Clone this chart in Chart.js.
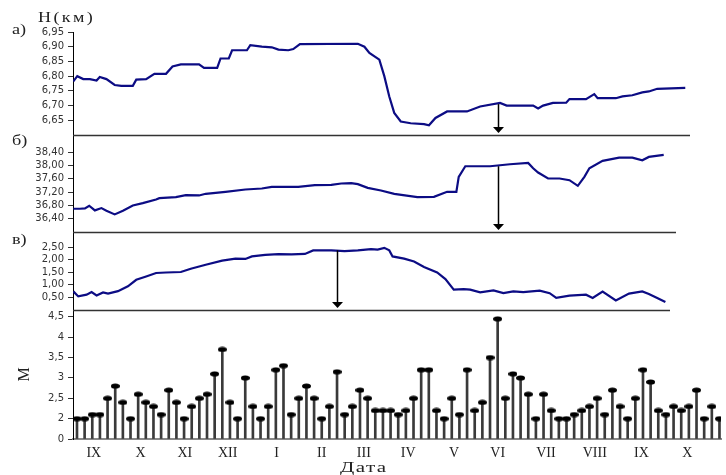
<!DOCTYPE html>
<html>
<head>
<meta charset="utf-8">
<script src="https://cdn.jsdelivr.net/npm/chart.js@4.4.1/dist/chart.umd.min.js"></script>
<style>
html, body { margin: 0; padding: 0; background: #fff; }
#wrap { position: relative; width: 726px; height: 475px; overflow: hidden; }
#chart { position: absolute; left: 0; top: 0; }
.lbl { position: absolute; font-family: "Liberation Serif", serif; color: #222; line-height: 1; white-space: nowrap; transform-origin: left top; }
</style>
</head>
<body>
<div id="wrap">
  <canvas id="chart" width="726" height="475"></canvas>
  <div class="lbl" style="left:38px;top:10px;font-size:15px;letter-spacing:2px;transform:scaleX(1.2)">H(км)</div>
  <div class="lbl" style="left:12px;top:23px;font-size:14px;transform:scaleX(1.3)">а)</div>
  <div class="lbl" style="left:12px;top:134px;font-size:14px;transform:scaleX(1.3)">б)</div>
  <div class="lbl" style="left:12px;top:233px;font-size:14px;transform:scaleX(1.3)">в)</div>
  <div class="lbl" style="left:340px;top:460px;font-size:15px;letter-spacing:1px;transform:scaleX(1.4)">Дата</div>
</div>
<script>
// x is the pentad number (5-day step), counted from the first stem
const monthLabels = ['IX', 'X', 'XI', 'XII', 'I', 'II', 'III', 'IV', 'V', 'VI', 'VII', 'VIII', 'IX', 'X'];
const monthPos = [2.2, 8.3, 14.1, 19.7, 26.1, 32.0, 37.5, 43.3, 49.3, 55.0, 61.3, 67.7, 73.8, 79.8];

// panel a) H, km
const aX = [-0.48, 0.04, 0.82, 1.69, 2.56, 2.98, 3.85, 4.93, 5.80, 7.30, 7.75, 9.04, 10.12, 11.64, 12.49, 13.58,
  15.96, 16.61, 18.33, 18.77, 19.85, 20.28, 22.22, 22.66, 24.17, 25.47, 26.34, 27.63, 28.28, 29.15, 36.72, 37.58,
  38.23, 39.53, 40.18, 40.83, 41.48, 42.33, 43.63, 45.37, 46.02, 46.87, 48.39, 50.99, 52.71, 55.31, 56.18, 59.64,
  60.29, 60.94, 62.23, 63.96, 64.39, 66.55, 67.63, 68.07, 70.45, 71.32, 72.61, 73.91, 74.77, 75.86, 79.53];
const aY = [6.782, 6.80, 6.79, 6.79, 6.785, 6.797, 6.79, 6.77, 6.767, 6.767, 6.788, 6.79, 6.808, 6.808, 6.833, 6.84,
  6.84, 6.828, 6.828, 6.86, 6.86, 6.888, 6.888, 6.905, 6.90, 6.898, 6.89, 6.888, 6.892, 6.909, 6.91, 6.90,
  6.879, 6.856, 6.80, 6.731, 6.675, 6.646, 6.64, 6.637, 6.633, 6.658, 6.68, 6.68, 6.697, 6.709, 6.70, 6.70,
  6.69, 6.70, 6.709, 6.71, 6.722, 6.722, 6.739, 6.725, 6.725, 6.731, 6.735, 6.745, 6.748, 6.757, 6.76];

// panel б)
const bX = [-0.48, 0.39, 1.04, 1.60, 2.34, 3.20, 3.85, 4.93, 6.01, 7.30, 8.60, 10.34, 10.77, 12.93, 14.23, 15.96,
  16.83, 19.42, 22.02, 24.17, 25.47, 28.93, 31.10, 33.25, 34.55, 35.85, 36.72, 38.01, 39.74, 41.48, 44.50, 46.67,
  48.39, 49.60, 49.91, 50.77, 54.01, 56.61, 58.99, 59.64, 60.29, 61.59, 63.09, 64.39, 65.48, 66.34, 66.99, 68.72,
  70.88, 72.61, 73.91, 74.77, 76.71];
const bY = [36.70, 36.70, 36.71, 36.79, 36.65, 36.72, 36.64, 36.53, 36.64, 36.80, 36.87, 36.98, 37.02, 37.05, 37.11, 37.10,
  37.15, 37.21, 37.28, 37.31, 37.36, 37.36, 37.41, 37.42, 37.46, 37.47, 37.44, 37.33, 37.25, 37.15, 37.05, 37.06,
  37.21, 37.21, 37.66, 37.98, 37.98, 38.04, 38.08, 37.92, 37.79, 37.61, 37.61, 37.56, 37.39, 37.66, 37.92, 38.14,
  38.24, 38.24, 38.16, 38.26, 38.32];

// panel в)
const cX = [-0.48, 0.17, 1.26, 1.91, 2.56, 3.41, 4.06, 5.36, 6.66, 7.75, 9.04, 10.34, 11.64, 13.58, 14.88, 16.83,
  18.98, 20.72, 22.02, 22.87, 24.61, 26.34, 28.06, 29.80, 30.88, 33.25, 34.99, 36.72, 38.44, 39.31, 40.18, 40.83,
  41.26, 42.77, 44.07, 45.37, 47.09, 48.17, 49.26, 50.56, 51.41, 52.71, 54.45, 55.75, 57.05, 58.35, 60.50, 61.80,
  62.66, 64.39, 66.55, 67.42, 68.72, 70.45, 72.17, 73.91, 74.77, 75.86, 76.93];
const cY = [0.74, 0.54, 0.61, 0.71, 0.58, 0.70, 0.65, 0.75, 0.94, 1.20, 1.33, 1.47, 1.49, 1.51, 1.64, 1.80,
  1.96, 2.04, 2.03, 2.13, 2.19, 2.22, 2.21, 2.23, 2.37, 2.37, 2.34, 2.37, 2.42, 2.40, 2.47, 2.37,
  2.13, 2.04, 1.93, 1.71, 1.49, 1.23, 0.81, 0.83, 0.81, 0.70, 0.78, 0.67, 0.74, 0.71, 0.77, 0.67,
  0.48, 0.57, 0.61, 0.48, 0.73, 0.38, 0.65, 0.74, 0.64, 0.48, 0.32];

// bottom panel: M per pentad
const mValues = [2.0, 2.0, 2.1, 2.1, 2.5, 2.8, 2.4, 2.0, 2.6, 2.4, 2.3, 2.1, 2.7, 2.4, 2.0, 2.3, 2.5, 2.6, 3.1, 3.7, 2.4, 2.0,
  3.0, 2.3, 2.0, 2.3, 3.2, 3.3, 2.1, 2.5, 2.8, 2.5, 2.0, 2.3, 3.15, 2.1, 2.3, 2.7, 2.5, 2.2, 2.2, 2.2, 2.1,
  2.2, 2.5, 3.2, 3.2, 2.2, 2.0, 2.5, 2.1, 3.2, 2.2, 2.4, 3.5, 4.45, 2.5, 3.1, 3.0, 2.6, 2.0, 2.6, 2.2, 2.0, 2.0,
  2.1, 2.2, 2.3, 2.5, 2.1, 2.7, 2.3, 2.0, 2.5, 3.2, 2.9, 2.2, 2.1, 2.3, 2.2, 2.3, 2.7, 2.0, 2.3, 2.0];

const aTicks = [6.65, 6.70, 6.75, 6.80, 6.85, 6.90, 6.95];
const bTicks = [36.4, 36.8, 37.2, 37.6, 38.0, 38.4];
const cTicks = [0.5, 1.0, 1.5, 2.0, 2.5];
const mTicks = [1.5, 2, 2.5, 3, 3.5, 4, 4.5];
const mTickLabels = ['0', '2', '2,5', '3', '3,5', '4', '4,5'];

// arrows: pentad and the value where each arrow starts (a, б, в)
const arrowPentad = [55, 55, 34];
const arrowFrom = [6.705, 37.98, 2.37];

const pts = (xs, ys) => xs.map((x, i) => ({ x: x, y: ys[i] }));
const mPts = mValues.map((v, i) => ({ x: i, y: v }));
const comma = (d) => (v) => v.toFixed(d).replace('.', ',');
const fixedTicks = (vals) => (s) => { s.ticks = vals.map(v => ({ value: v })); };

// pin head for the stems
const head = document.createElement('canvas');
head.width = 9; head.height = 6;
let hc = head.getContext('2d');
hc.fillStyle = '#000';
hc.beginPath();
hc.ellipse(4.5, 3, 4.5, 2.6, 0, 0, Math.PI * 2);
hc.fill();

function yAxis(min, max, vals, cb, weight) {
  return {
    type: 'linear', position: 'left', stack: 'panels', stackWeight: weight,
    min: min, max: max,
    afterBuildTicks: fixedTicks(vals),
    afterFit: (s) => { s.width = 73; },
    grid: { drawOnChartArea: false, tickLength: 5, color: '#333' },
    border: { color: '#000', width: 1 },
    ticks: { autoSkip: false, padding: 4, color: '#333', font: { family: 'DejaVu Sans', size: 10 }, callback: cb }
  };
}

const decor = {
  id: 'decor',
  afterDatasetsDraw(chart) {
    const { ctx, chartArea, scales } = chart;
    ctx.save();
    ctx.strokeStyle = '#333';
    ctx.lineWidth = 1.5;
    [['ya', 690], ['yb', 676], ['yc', 670]].forEach(([id, xr]) => {
      const y = Math.round(scales[id].bottom) + 0.5;
      ctx.beginPath();
      ctx.moveTo(chartArea.left, y);
      ctx.lineTo(xr, y);
      ctx.stroke();
    });
    ['ya', 'yb', 'yc'].forEach((id, i) => {
      const x = Math.round(scales.x.getPixelForValue(arrowPentad[i])) + 0.5;
      const y0 = scales[id].getPixelForValue(arrowFrom[i]);
      const y1 = scales[id].bottom - 2;
      ctx.strokeStyle = '#000';
      ctx.lineWidth = 1.5;
      ctx.beginPath();
      ctx.moveTo(x, y0);
      ctx.lineTo(x, y1 - 5);
      ctx.stroke();
      ctx.fillStyle = '#000';
      ctx.beginPath();
      ctx.moveTo(x - 5.5, y1 - 6);
      ctx.lineTo(x + 5.5, y1 - 6);
      ctx.lineTo(x, y1);
      ctx.closePath();
      ctx.fill();
    });
    ctx.restore();
  }
};

const lineStyle = { type: 'line', borderColor: '#0c0c84', borderWidth: 2.2, pointRadius: 0, tension: 0, fill: false };

new Chart(document.getElementById('chart'), {
  type: 'line',
  data: {
    datasets: [
      Object.assign({ data: pts(aX, aY), yAxisID: 'ya' }, lineStyle),
      Object.assign({ data: pts(bX, bY), yAxisID: 'yb' }, lineStyle),
      Object.assign({ data: pts(cX, cY), yAxisID: 'yc' }, lineStyle),
      { type: 'bar', data: mPts, yAxisID: 'ym', backgroundColor: '#3a3a3a', barThickness: 2, base: 1.5, grouped: false, order: 2 },
      { type: 'line', data: mPts, yAxisID: 'ym', showLine: false, pointStyle: head, pointRadius: 4, order: 1 }
    ]
  },
  options: {
    responsive: false,
    animation: false,
    events: [],
    layout: { padding: { top: 32, left: 0, right: 0, bottom: 0 } },
    plugins: { legend: { display: false }, tooltip: { enabled: false } },
    scales: {
      x: {
        type: 'linear', min: -0.52, max: 84.2, offset: false,
        afterBuildTicks: fixedTicks(monthPos),
        afterFit: (s) => { s.height = 36; },
        grid: { display: true, drawOnChartArea: false, drawTicks: false },
        border: { color: '#888', width: 2 },
        ticks: { autoSkip: false, maxRotation: 0, padding: 6, color: '#222',
          font: { family: 'Liberation Serif', size: 14 }, callback: (v, i) => monthLabels[i] }
      },
      ym: Object.assign(yAxis(1.5, 4.667, mTicks, (v, i) => mTickLabels[i], 129), {
        title: { display: true, text: 'М', color: '#222', font: { family: 'Liberation Serif', size: 16 }, padding: { top: 15, bottom: 0 } }
      }),
      yc: yAxis(0, 3.1, cTicks, comma(2), 78),
      yb: yAxis(36.0, 38.92, bTicks, comma(2), 97),
      ya: yAxis(6.60, 6.95, aTicks, comma(2), 103)
    }
  },
  plugins: [decor]
});
</script>
</body>
</html>
